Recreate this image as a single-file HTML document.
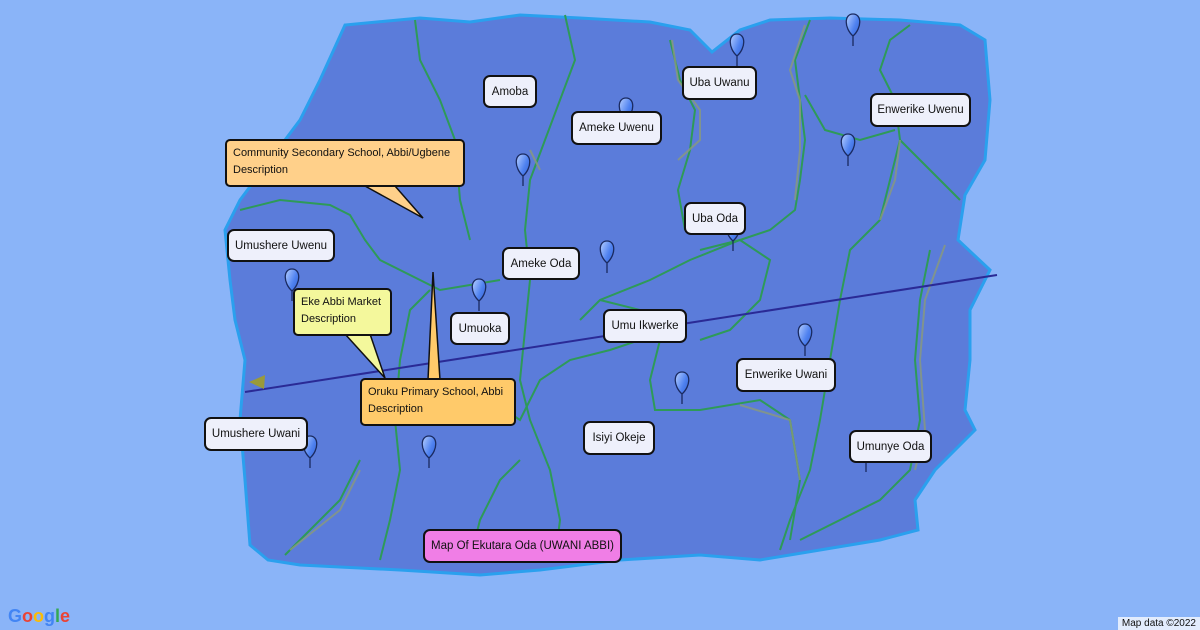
<!DOCTYPE html>
<html><head><meta charset="utf-8"><style>
body{margin:0;width:1200px;height:630px;overflow:hidden;background:#8ab4f8;font-family:"Liberation Sans",sans-serif;position:relative}
svg{position:absolute;left:0;top:0}
.l{position:absolute;box-sizing:border-box;border:2px solid #111;border-radius:7px;background:#eef0fb;font-size:11.5px;color:#111;display:flex;align-items:center;justify-content:center;white-space:nowrap}
.c{position:absolute;box-sizing:border-box;border:2px solid #111;border-radius:5px;font-size:11px;line-height:17px;color:#111;padding:4px 6px;white-space:nowrap}
</style></head><body>
<svg width="1200" height="630">
<defs><linearGradient id="g" x1="0" y1="0" x2="1" y2="1"><stop offset="0" stop-color="#b8d0ff"/><stop offset=".5" stop-color="#4f82f0"/><stop offset="1" stop-color="#2a55c8"/></linearGradient></defs>
<path d="M320,80 L345,25 L420,18 L470,22 L520,15 L580,18 L650,22 L690,30 L712,52 L740,30 L770,20 L830,18 L900,20 L960,25 L985,40 L990,100 L985,160 L965,195 L958,240 L990,270 L970,310 L970,360 L965,410 L975,430 L935,470 L915,500 L918,530 L880,540 L820,550 L760,560 L700,555 L620,560 L540,570 L480,575 L400,570 L300,565 L268,560 L250,545 L245,480 L240,420 L245,360 L235,320 L230,280 L225,230 L240,200 L270,160 L300,120 Z" fill="#5b7cda" stroke="#2aa0ee" stroke-width="3"/>
<g fill="none" stroke="#2e9a58" stroke-width="2">
<path d="M415,20 L420,60 L440,100 L455,140 L460,200 L470,240"/>
<path d="M565,15 L575,60 L560,100 L545,140 L530,180 L525,230 L530,280 L525,330 L520,380 L530,420 L550,470 L560,520 L555,560"/>
<path d="M670,40 L680,80 L695,110 L690,150 L678,190 L685,230"/>
<path d="M810,20 L795,60 L800,100 L805,140 L800,180 L795,210 L770,230 L740,240 L690,260 L650,280 L600,300 L580,320"/>
<path d="M910,25 L890,40 L880,70 L895,100 L900,140 L890,180 L880,220 L850,250 L840,300 L830,360 L820,420 L810,470 L790,520 L780,550"/>
<path d="M805,95 L825,130 L860,140 L895,130"/>
<path d="M240,210 L280,200 L330,205 L350,215 L365,240 L380,260 L420,280 L440,290 L470,285 L500,280"/>
<path d="M430,290 L410,310 L400,360 L395,420 L400,470 L390,520 L380,560"/>
<path d="M600,300 L640,310 L660,340 L650,380 L655,410 L700,410 L760,400 L790,420 L800,480 L790,540"/>
<path d="M490,400 L520,420 L540,380 L570,360 L610,350 L640,340"/>
<path d="M930,250 L920,300 L915,360 L920,420 L910,470 L880,500 L840,520 L800,540"/>
<path d="M360,460 L340,500 L310,530 L285,555"/>
<path d="M700,250 L740,240 L770,260 L760,300 L730,330 L700,340"/>
<path d="M470,560 L480,520 L500,480 L520,460"/>
<path d="M900,140 L930,170 L960,200"/>
</g>
<g fill="none" stroke="#8a9a7a" stroke-width="2" opacity=".8">
<path d="M672,40 L678,80 L700,110 L700,140 L678,160"/>
<path d="M805,25 L790,70 L800,100 L800,150 L795,200"/>
<path d="M900,140 L895,180 L880,220"/>
<path d="M945,245 L925,300 L920,360 L925,430 L915,470"/>
<path d="M360,470 L340,510 L290,550"/>
<path d="M740,405 L790,420 L800,480"/>
<path d="M530,150 L540,170"/>
</g>
<line x1="245" y1="392" x2="997" y2="275" stroke="#2a2a96" stroke-width="2"/>
<polygon points="249,382 265,375 264,389" fill="#9a9a3a"/>
<g fill="url(#g)" stroke="#1a2a60" stroke-width="1.3">
<path id="p" d="M0,0 C-9,-8 -9,-22 0,-22 C9,-22 9,-8 0,0 L0,10" transform="translate(737,56)"/>
<use href="#p" x="116" y="-20"/><use href="#p" x="111" y="100"/><use href="#p" x="-111" y="64"/>
<use href="#p" x="-214" y="120"/><use href="#p" x="-130" y="207"/><use href="#p" x="-4" y="185"/>
<use href="#p" x="-445" y="235"/><use href="#p" x="-258" y="245"/><use href="#p" x="-55" y="338"/>
<use href="#p" x="68" y="290"/><use href="#p" x="-427" y="402"/><use href="#p" x="-308" y="402"/><use href="#p" x="129" y="406"/>
</g>
<polygon points="365,186 395,186 423,218" fill="#ffd08a" stroke="#111" stroke-width="1.5"/>
<polygon points="345,334 370,334 385,378" fill="#f4f89c" stroke="#111" stroke-width="1.5"/>
<polygon points="428,380 440,380 433,272" fill="#ffca6a" stroke="#111" stroke-width="1.5"/>
<text x="8" y="622" font-family="Liberation Sans" font-size="18" font-weight="bold" fill="#4285f4">G<tspan fill="#ea4335">o</tspan><tspan fill="#fbbc05">o</tspan><tspan fill="#4285f4">g</tspan><tspan fill="#34a853">l</tspan><tspan fill="#ea4335">e</tspan></text>
</svg>
<div class="c" style="left:225px;top:139px;width:240px;height:48px;background:#ffd08a">Community Secondary School, Abbi/Ugbene<br>Description</div>
<div class="c" style="left:293px;top:288px;width:99px;height:48px;background:#f4f89c">Eke Abbi Market<br>Description</div>
<div class="c" style="left:360px;top:378px;width:156px;height:48px;background:#ffca6a">Oruku Primary School, Abbi<br>Description</div>
<div class="l" style="left:483px;top:75px;width:54px;height:33px">Amoba</div>
<div class="l" style="left:682px;top:66px;width:75px;height:34px">Uba Uwanu</div>
<div class="l" style="left:571px;top:111px;width:91px;height:34px">Ameke Uwenu</div>
<div class="l" style="left:870px;top:93px;width:101px;height:34px">Enwerike Uwenu</div>
<div class="l" style="left:684px;top:202px;width:62px;height:33px">Uba Oda</div>
<div class="l" style="left:227px;top:229px;width:108px;height:33px">Umushere Uwenu</div>
<div class="l" style="left:502px;top:247px;width:78px;height:33px">Ameke Oda</div>
<div class="l" style="left:450px;top:312px;width:60px;height:33px">Umuoka</div>
<div class="l" style="left:603px;top:309px;width:84px;height:34px">Umu Ikwerke</div>
<div class="l" style="left:736px;top:358px;width:100px;height:34px">Enwerike Uwani</div>
<div class="l" style="left:204px;top:417px;width:104px;height:34px">Umushere Uwani</div>
<div class="l" style="left:583px;top:421px;width:72px;height:34px">Isiyi Okeje</div>
<div class="l" style="left:849px;top:430px;width:83px;height:33px">Umunye Oda</div>
<div class="l" style="left:423px;top:529px;width:199px;height:34px;background:#f07ee6">Map Of Ekutara Oda (UWANI ABBI)</div>
<div style="position:absolute;right:0;bottom:0;background:rgba(255,255,255,.75);font-size:10px;padding:1px 4px;color:#111">Map data ©2022</div>
</body></html>
